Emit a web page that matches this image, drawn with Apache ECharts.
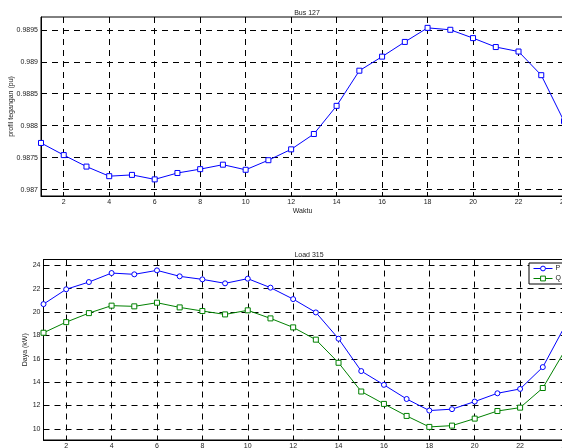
<!DOCTYPE html>
<html><head><meta charset="utf-8">
<script src="https://cdn.jsdelivr.net/npm/echarts@6/dist/echarts.min.js"></script>
<style>html,body{margin:0;padding:0;background:#fff}#c{width:562px;height:448px}</style>
</head><body><div id="c"></div>
<script>
const hours = [1,2,3,4,5,6,7,8,9,10,11,12,13,14,15,16,17,18,19,20,21,22,23,24];
const xTicks = [2,4,6,8,10,12,14,16,18,20,22,24];
const voltage = [0.98773,0.98754,0.98736,0.98721,0.98723,0.98716,0.98726,0.98732,0.98739,0.98731,0.98746,0.98763,0.98787,0.98831,0.98886,0.98908,0.98931,0.98953,0.98950,0.98937,0.98923,0.98916,0.98879,0.98807];
const vTicks = [0.987,0.9875,0.988,0.9885,0.989,0.9895];
const loadP = [20.68,21.95,22.57,23.34,23.23,23.57,23.06,22.80,22.46,22.86,22.09,21.11,19.97,17.72,14.95,13.77,12.56,11.57,11.69,12.34,13.05,13.42,15.29,18.9];
const loadQ = [18.23,19.14,19.91,20.55,20.49,20.80,20.40,20.09,19.80,20.15,19.46,18.69,17.64,15.66,13.20,12.14,11.11,10.17,10.28,10.88,11.53,11.82,13.50,16.8];
const pTicks = [10,12,14,16,18,20,22,24];

const FONT = 'Liberation Sans';
const dash = {color:'#000', type:[6,5], width:1};
function xAx(grid, pos, labels){
  return {type:'value', gridIndex:grid, min:1, max:24, position:pos,
    axisLine:{show:pos==='bottom', lineStyle:{color:'#000', width:1}},
    axisTick:{show:true, inside:true, length:4, customValues:xTicks, lineStyle:{color:'#000'}},
    axisLabel:{show:labels, customValues:xTicks, fontSize:7, fontFamily:FONT, color:'#222', margin:3},
    splitLine:{show:pos==='bottom', lineStyle:dash},
    minorTick:{show:false}};
}
const opt = {
  animation:false,
  backgroundColor:'#fff',
  title:[
    {text:'Bus 127', left:302, top:5, textAlign:'center', textStyle:{fontSize:7, fontWeight:'normal', fontFamily:FONT, color:'#222'}},
    {text:'Load 315', left:304, top:247, textAlign:'center', textStyle:{fontSize:7, fontWeight:'normal', fontFamily:FONT, color:'#222'}}
  ],
  grid:[
    {left:41, top:17, width:523, height:179, show:true, borderColor:'#000', borderWidth:1, backgroundColor:'transparent', outerBoundsMode:'none', containLabel:false},
    {left:43.5, top:259.5, width:522, height:180.5, show:true, borderColor:'#000', borderWidth:1, backgroundColor:'transparent', outerBoundsMode:'none', containLabel:false}
  ],
  legend:{data:['P','Q'], orient:'vertical', left:529, top:263, itemWidth:19, itemHeight:6, itemGap:3,
    padding:[2,3,2,4], borderColor:'#000', borderWidth:1, backgroundColor:'#fff',
    lineStyle:{width:1}, itemStyle:{borderWidth:1},
    textStyle:{fontSize:7, fontFamily:FONT, color:'#222', padding:[0,0,0,-2]}},
  xAxis:[
    Object.assign(xAx(0,'bottom',true), {name:'Waktu', nameLocation:'middle', nameGap:12, nameMoveOverlap:false, nameTextStyle:{fontSize:7, fontFamily:FONT, color:'#222'}}),
    xAx(1,'bottom',true),
    xAx(0,'top',false),
    xAx(1,'top',false)
  ],
  yAxis:[
    {type:'value', gridIndex:0, min:0.9869, max:0.9897,
      name:'profil tegangan (pu)', nameLocation:'middle', nameGap:26, nameRotate:90, nameMoveOverlap:false,
      nameTextStyle:{fontSize:7, fontFamily:FONT, color:'#222'},
      axisLine:{show:true, lineStyle:{color:'#000', width:1}},
      axisTick:{show:true, inside:true, length:4, customValues:vTicks, lineStyle:{color:'#000'}},
      axisLabel:{customValues:vTicks, fontSize:7, fontFamily:FONT, color:'#222', margin:3,
        formatter:v=>String(+v.toFixed(4))},
      splitLine:{show:true, lineStyle:dash}},
    {type:'value', gridIndex:1, min:9.05, max:24.5,
      name:'Daya (kW)', nameLocation:'middle', nameGap:15, nameRotate:90, nameMoveOverlap:false,
      nameTextStyle:{fontSize:7, fontFamily:FONT, color:'#222'},
      axisLine:{show:true, lineStyle:{color:'#000', width:1}},
      axisTick:{show:true, inside:true, length:4, customValues:pTicks, lineStyle:{color:'#000'}},
      axisLabel:{customValues:pTicks, fontSize:7, fontFamily:FONT, color:'#222', margin:3},
      splitLine:{show:true, lineStyle:dash}}
  ],
  series:[
    {name:'V', type:'line', xAxisIndex:0, yAxisIndex:0, data:hours.map((h,i)=>[h,voltage[i]]),
      symbol:'rect', symbolSize:5, showAllSymbol:true, itemStyle:{color:'#fff', borderColor:'#0000ff', borderWidth:1},
      lineStyle:{color:'#0000ff', width:1}},
    {name:'P', type:'line', xAxisIndex:1, yAxisIndex:1, data:hours.map((h,i)=>[h,loadP[i]]),
      symbol:'circle', symbolSize:5, showAllSymbol:true, itemStyle:{color:'#fff', borderColor:'#0000ff', borderWidth:1},
      lineStyle:{color:'#0000ff', width:1}},
    {name:'Q', type:'line', xAxisIndex:1, yAxisIndex:1, data:hours.map((h,i)=>[h,loadQ[i]]),
      symbol:'rect', symbolSize:5, showAllSymbol:true, itemStyle:{color:'#fff', borderColor:'#008000', borderWidth:1},
      lineStyle:{color:'#008000', width:1}}
  ]
};
echarts.init(document.getElementById('c'), null, {renderer:'canvas'}).setOption(opt);
</script></body></html>
